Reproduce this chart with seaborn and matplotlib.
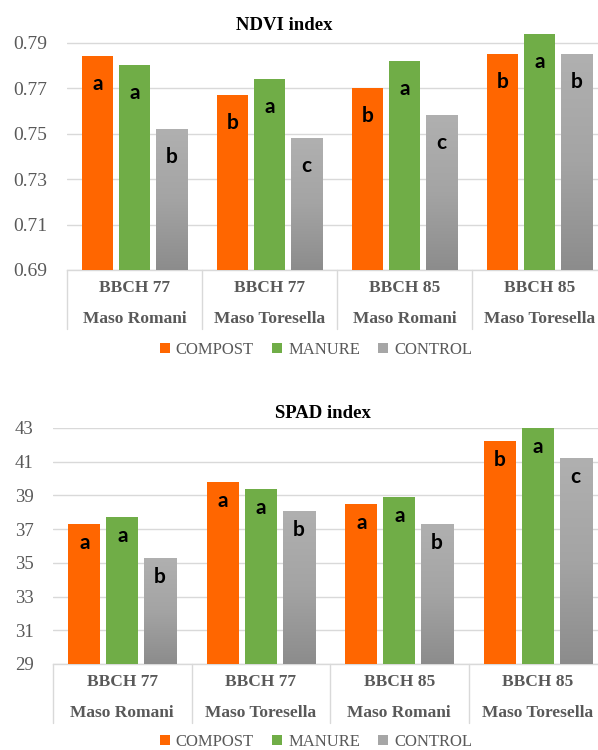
import numpy as np
import pandas as pd
import matplotlib
matplotlib.use("Agg")
import matplotlib.pyplot as plt
import matplotlib.transforms as mtransforms
from matplotlib.colors import LinearSegmentedColormap
from matplotlib.patches import Patch
import seaborn as sns

# ---------------- data ----------------
categories = ["BBCH 77\nMaso Romani", "BBCH 77\nMaso Toresella",
              "BBCH 85\nMaso Romani", "BBCH 85\nMaso Toresella"]
treatments = ["COMPOST", "MANURE", "CONTROL"]

ndvi_compost = [0.784, 0.767, 0.770, 0.785]
ndvi_manure = [0.780, 0.774, 0.782, 0.794]
ndvi_control = [0.752, 0.748, 0.758, 0.785]
ndvi_letters_compost = ["a", "b", "b", "b"]
ndvi_letters_manure = ["a", "a", "a", "a"]
ndvi_letters_control = ["b", "c", "c", "b"]
ndvi_ticks = [0.69, 0.71, 0.73, 0.75, 0.77, 0.79]

spad_compost = [37.3, 39.8, 38.5, 42.2]
spad_manure = [37.7, 39.4, 38.9, 43.0]
spad_control = [35.3, 38.1, 37.3, 41.2]
spad_letters_compost = ["a", "a", "a", "b"]
spad_letters_manure = ["a", "a", "a", "a"]
spad_letters_control = ["b", "b", "b", "c"]
spad_ticks = [29, 31, 33, 35, 37, 39, 41, 43]

# ---------------- style ----------------
ORANGE = "#FF6600"
GREEN = "#70AD47"
GRAY = "#A6A6A6"
palette = {"COMPOST": ORANGE, "MANURE": GREEN, "CONTROL": GRAY}
TXT = "#595959"
GRID = "#D9D9D9"
SERIF = ["Liberation Serif", "DejaVu Serif"]
SANS_B = ["Lato", "DejaVu Sans"]

sns.set_theme(style="white")
plt.rcParams["font.family"] = SERIF

fig = plt.figure(figsize=(5.98, 7.5), dpi=100)

gray_cmap = LinearSegmentedColormap.from_list("g", ["#8C8C8C", "#A4A4A4", "#B0B0B0"])


def make_df(c, m, k, lc, lm, lk):
    rows = []
    for vals, lets, t in ((c, lc, "COMPOST"), (m, lm, "MANURE"), (k, lk, "CONTROL")):
        for cat, v, l in zip(categories, vals, lets):
            rows.append({"cat": cat, "treat": t, "value": v, "letter": l})
    return pd.DataFrame(rows)


def draw(ax, df, ylim, ticks, fmt, tick_fs, letter_off):
    sns.barplot(data=df, x="cat", y="value", hue="treat", order=categories,
                hue_order=treatments, palette=palette, width=0.82, gap=0.15,
                saturation=1, legend=False, ax=ax, linewidth=0, zorder=3)
    ax.set_ylim(*ylim)
    ax.set_xlim(-0.5, 3.5)
    ax.set_yticks(ticks)
    ax.set_yticklabels([fmt.format(t) for t in ticks], fontsize=tick_fs,
                       color=TXT, family=SERIF)
    ax.set_xticks(range(len(categories)))
    ax.set_xticklabels(categories, fontsize=12.5, fontweight="bold", color=TXT,
                       family=SERIF, linespacing=2.25)
    ax.tick_params(axis="x", length=0, pad=7)
    ax.tick_params(axis="y", length=0, pad=14)
    ax.set_xlabel("")
    ax.set_ylabel("")
    ax.yaxis.grid(True, color=GRID, linewidth=1.0, zorder=0)
    ax.set_axisbelow(True)
    for s in ("top", "right", "left"):
        ax.spines[s].set_visible(False)
    ax.spines["bottom"].set_color(GRID)
    ax.spines["bottom"].set_linewidth(1.0)

    # category separators below the axis
    trans = mtransforms.blended_transform_factory(ax.transData, ax.transAxes)
    bbox = ax.get_position()
    h_px = bbox.height * fig.get_figheight() * fig.dpi
    depth = 59.0 / h_px
    for xb in np.arange(-0.5, len(categories), 1.0):
        ax.plot([xb, xb], [0, -depth], transform=trans, color=GRID,
                linewidth=1.0, clip_on=False, zorder=1)

    # letters inside bars
    for cont, t in zip(ax.containers, treatments):
        sub = df[df["treat"] == t].set_index("cat").loc[categories]
        for patch, let in zip(cont.patches, sub["letter"]):
            xc = patch.get_x() + patch.get_width() / 2
            top = patch.get_y() + patch.get_height()
            ax.annotate(let, (xc, top), xytext=(0, -letter_off),
                        textcoords="offset pixels", ha="center", va="center",
                        fontsize=15, fontweight="bold", family=SANS_B,
                        color="black", zorder=6)

    # gradient fill for CONTROL bars
    grad = np.linspace(0, 1, 256).reshape(-1, 1)
    for patch in ax.containers[2].patches:
        x0 = patch.get_x()
        w = patch.get_width()
        top = patch.get_y() + patch.get_height()
        patch.set_facecolor("none")
        im = ax.imshow(grad, extent=[x0, x0 + w, ylim[0], top], origin="lower",
                       aspect="auto", cmap=gray_cmap, zorder=3,
                       interpolation="bicubic")
        im.set_clip_path(patch)
    ax.set_xlim(-0.5, 3.5)
    ax.set_ylim(*ylim)


def legend(y):
    handles = [Patch(facecolor=palette[t], edgecolor="none") for t in treatments]
    fig.legend(handles, treatments, loc="center", bbox_to_anchor=(316 / 598, y),
               ncol=3, frameon=False, handlelength=0.6,
               handleheight=0.6, handletextpad=0.35, columnspacing=1.1,
               labelcolor=TXT, prop={"family": SERIF, "size": 12})


# ---------------- NDVI ----------------
ax1 = fig.add_axes([67 / 598, 1 - 270 / 750, 540 / 598, 250 / 750])
df1 = make_df(ndvi_compost, ndvi_manure, ndvi_control,
              ndvi_letters_compost, ndvi_letters_manure, ndvi_letters_control)
draw(ax1, df1, (0.69, 0.80), ndvi_ticks, "{:.2f}", 14, 28)
fig.text(284 / 598, 1 - 25 / 750, "NDVI index", ha="center", va="center",
         fontsize=13.5, fontweight="bold", color="black", family=SERIF)
legend(1 - 350 / 750)

# ---------------- SPAD ----------------
ax2 = fig.add_axes([53 / 598, 1 - 664 / 750, 554 / 598, 236 / 750])
df2 = make_df(spad_compost, spad_manure, spad_control,
              spad_letters_compost, spad_letters_manure, spad_letters_control)
draw(ax2, df2, (29, 43), spad_ticks, "{:.0f}", 13.5, 19)
fig.text(323 / 598, 1 - 413 / 750, "SPAD index", ha="center", va="center",
         fontsize=13.5, fontweight="bold", color="black", family=SERIF)
legend(1 - 742 / 750)

fig.savefig("out.png", dpi=100)
